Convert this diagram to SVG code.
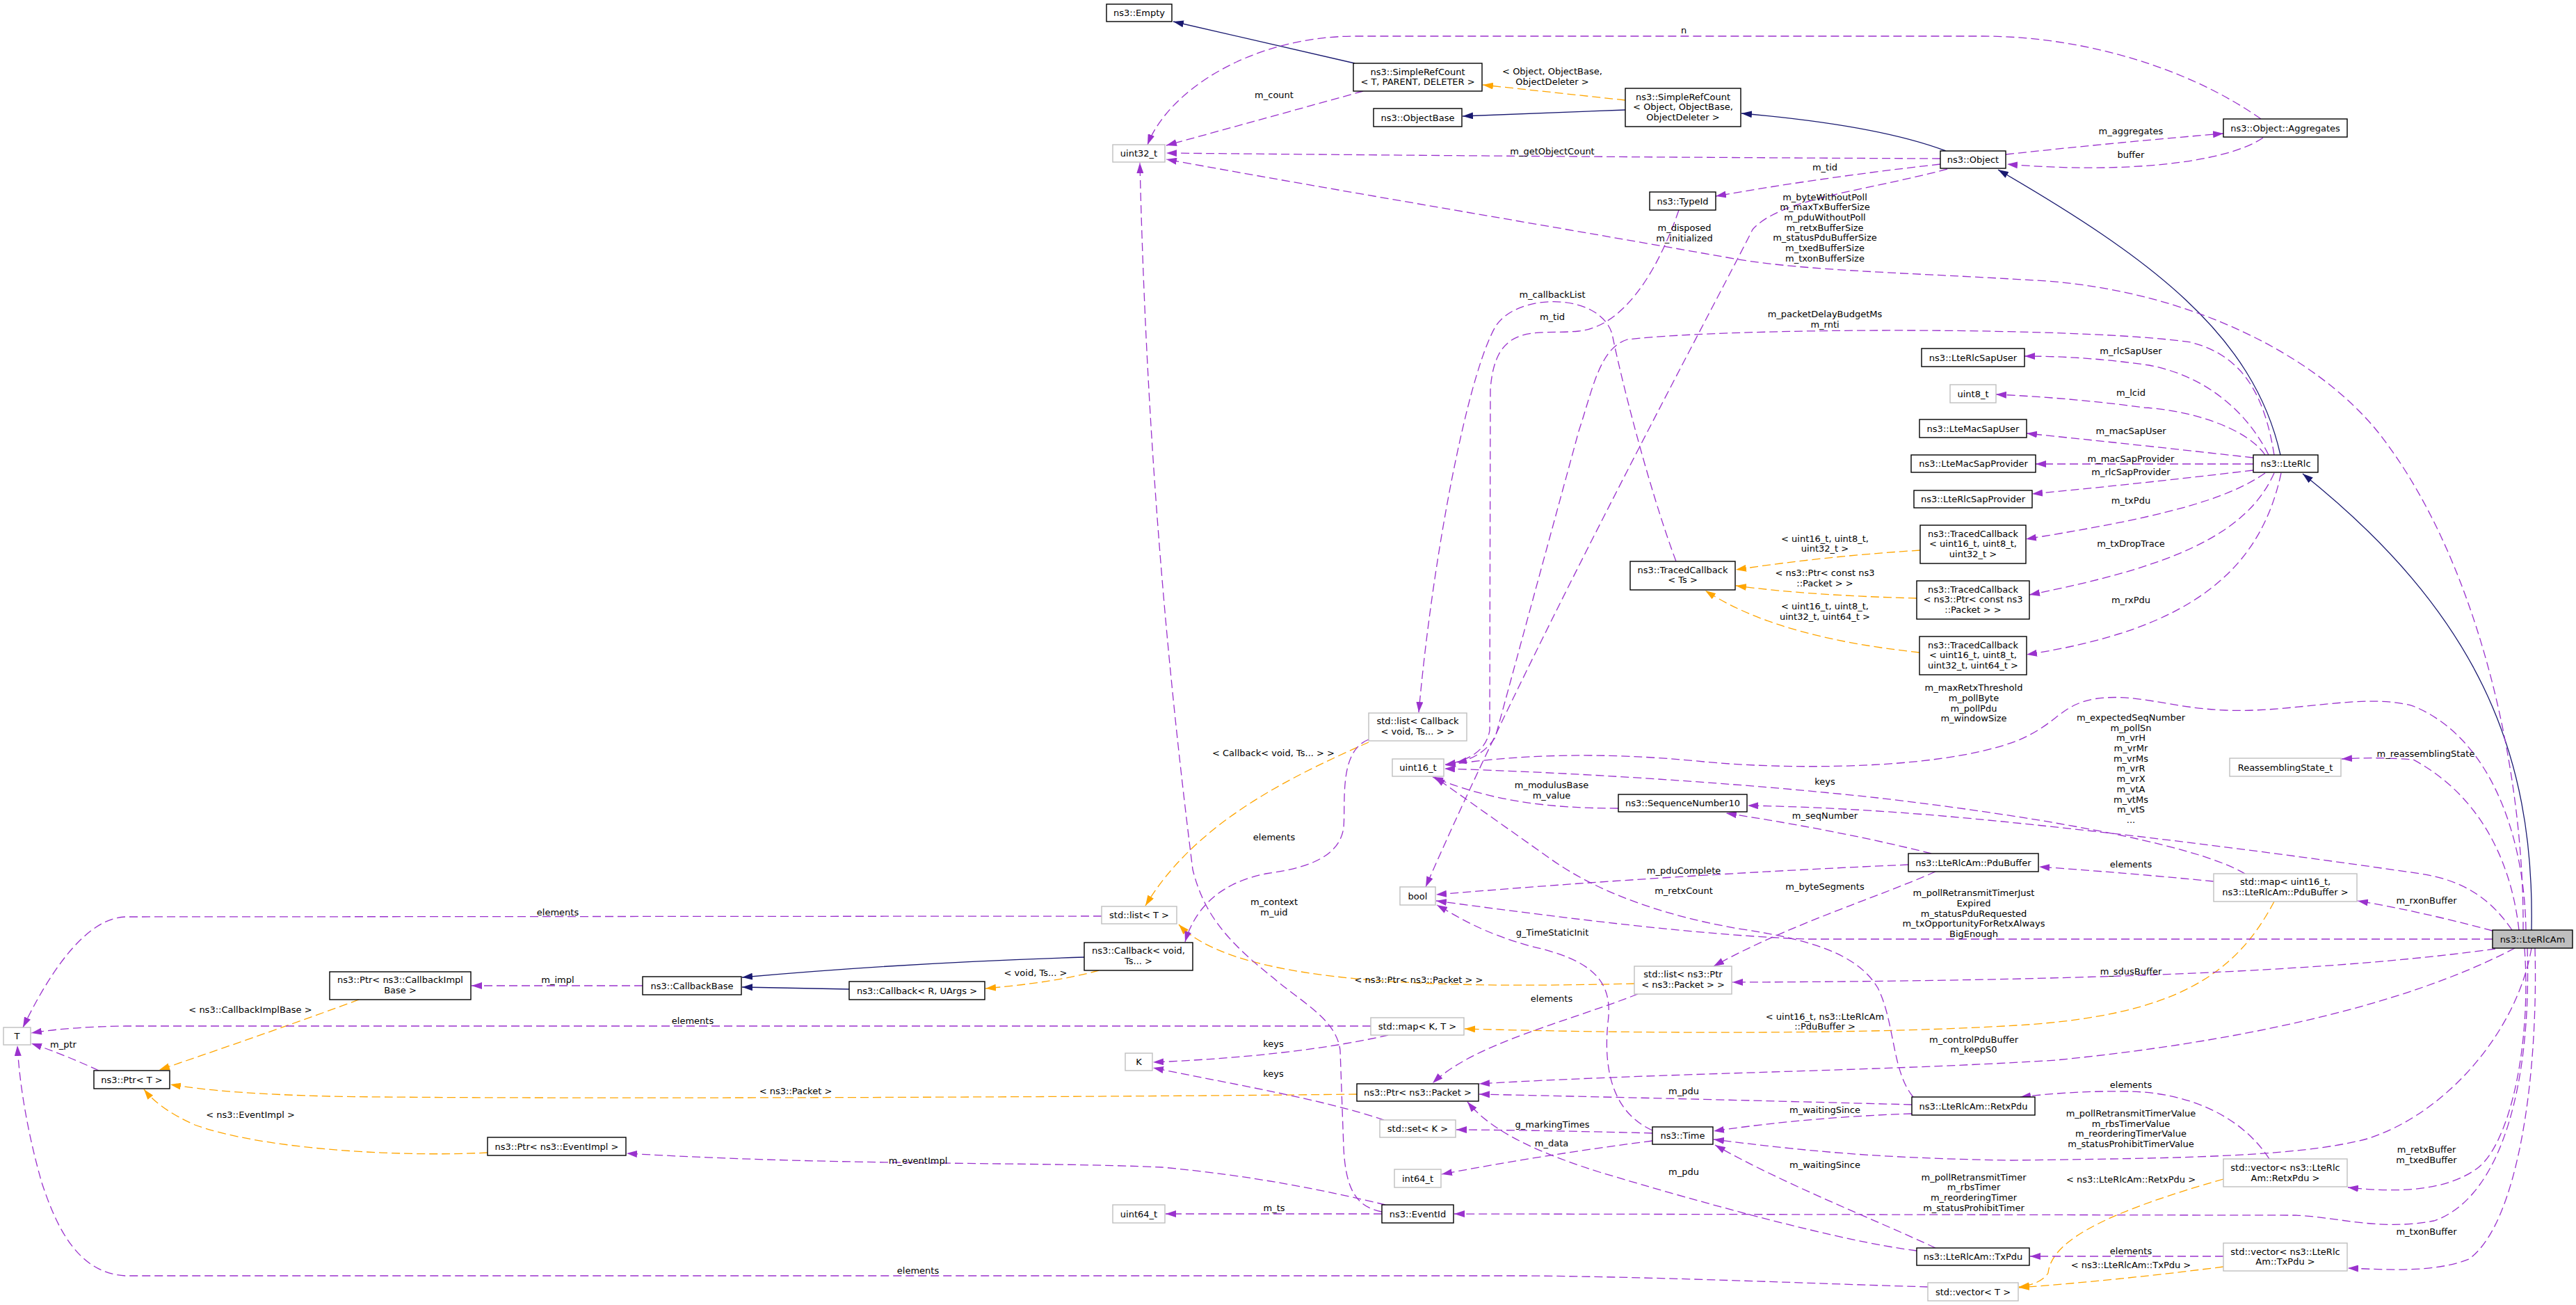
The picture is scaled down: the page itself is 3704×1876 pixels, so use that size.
<svg xmlns="http://www.w3.org/2000/svg" width="3704" height="1876" viewBox="0 0 3704 1876">
<defs>
<style>
text{font-family:"DejaVu Sans","Liberation Sans",sans-serif;font-size:13px;fill:#000;text-anchor:middle}
.nd rect{fill:#fff;stroke:#000;stroke-width:1.4}
.nd.g rect{stroke:#bfbfbf}
.nd.m rect{fill:#bfbfbf}
.e{fill:none;stroke-width:1.3}
.i{stroke:#191970;marker-end:url(#ai)}
.u{stroke:#9a32cd;stroke-dasharray:12,6;marker-end:url(#au)}
.t{stroke:#ffa500;stroke-dasharray:12,6;marker-end:url(#at)}
</style>
<marker id="ai" markerUnits="userSpaceOnUse" viewBox="0 0 15 10" refX="15" refY="5" markerWidth="15" markerHeight="10" orient="auto"><path d="M0,0L15,5L0,10z" fill="#191970"/></marker>
<marker id="au" markerUnits="userSpaceOnUse" viewBox="0 0 15 10" refX="15" refY="5" markerWidth="15" markerHeight="10" orient="auto"><path d="M0,0L15,5L0,10z" fill="#9a32cd"/></marker>
<marker id="at" markerUnits="userSpaceOnUse" viewBox="0 0 15 10" refX="15" refY="5" markerWidth="15" markerHeight="10" orient="auto"><path d="M0,0L15,5L0,10z" fill="#ffa500"/></marker>
</defs>
<rect width="3704" height="1876" fill="#fff"/>
<g id="connectors">
<path class="e i" d="M1948,91 L1687,31"/>
<path class="e i" d="M2337,158 L2103,167"/>
<path class="e i" d="M2798,217 Q2700,180 2504,163"/>
<path class="e i" d="M3279,654 C3240,480 3090,370 2873,244"/>
<path class="e i" d="M3640,1337 C3645,1080 3560,880 3311,681"/>
<path class="e i" d="M1559,1376 Q1300,1384 1067,1405"/>
<path class="e i" d="M1221,1422 L1067,1419"/>
<path class="e t" d="M2337,144 L2132,122"/>
<path class="e t" d="M2761,791 Q2620,800 2496,819"/>
<path class="e t" d="M2756,860 Q2600,856 2496,842"/>
<path class="e t" d="M2760,938 C2640,925 2530,900 2452,849"/>
<path class="e t" d="M1968,1067 C1860,1115 1720,1180 1647,1302"/>
<path class="e t" d="M1580,1395 Q1520,1412 1417,1421"/>
<path class="e t" d="M2350,1414 C2100,1420 1780,1420 1695,1329"/>
<path class="e t" d="M3270,1296 C3215,1400 3130,1460 2900,1474 C2700,1486 2400,1487 2106,1479"/>
<path class="e t" d="M1951,1573 C1500,1578 700,1580 474,1576 Q320,1572 245,1559"/>
<path class="e t" d="M516,1437 Q400,1480 229,1538"/>
<path class="e t" d="M701,1657 C560,1664 370,1650 280,1617 Q230,1595 207,1566"/>
<path class="e t" d="M3197,1695 C3040,1740 2950,1780 2945,1830 Q2935,1846 2903,1850"/>
<path class="e t" d="M3197,1821 Q3050,1840 2903,1851"/>
<path class="e u" d="M1960,131 Q1820,170 1677,209"/>
<path class="e u" d="M3251,171 C3150,100 3000,52 2850,52 L1950,52 C1800,52 1680,130 1650,208"/>
<path class="e u" d="M2790,228 Q2300,226 1677,220"/>
<path class="e u" d="M2790,236 Q2620,255 2467,282"/>
<path class="e u" d="M2800,243 C2680,275 2560,285 2520,330 C2470,430 2200,930 2050,1275"/>
<path class="e u" d="M2884,222 Q3040,205 3197,192"/>
<path class="e u" d="M3254,198 C3200,235 3050,250 2886,236"/>
<path class="e u" d="M2414,302 C2380,400 2330,470 2270,476 C2210,482 2150,460 2143,560 L2142,1050 Q2135,1090 2078,1099"/>
<path class="e u" d="M2410,807 C2370,700 2330,540 2318,480 C2300,420 2180,420 2150,470 C2110,540 2060,800 2040,1024"/>
<path class="e u" d="M1968,1063 C1925,1080 1935,1150 1932,1190 C1925,1240 1860,1250 1820,1256 C1760,1268 1720,1300 1704,1354"/>
<path class="e u" d="M3262,654 C3230,590 3170,540 3090,525 Q3000,512 2911,512"/>
<path class="e u" d="M3257,654 C3230,615 3150,590 3084,586 Q2980,572 2870,567"/>
<path class="e u" d="M3240,658 Q3080,640 2914,623"/>
<path class="e u" d="M3240,667 L2927,667"/>
<path class="e u" d="M3240,676 Q3080,695 2922,710"/>
<path class="e u" d="M3257,680 C3200,720 3100,745 2913,775"/>
<path class="e u" d="M3270,680 C3230,770 3120,815 2918,855"/>
<path class="e u" d="M3280,680 C3250,820 3150,905 2914,941"/>
<path class="e u" d="M3270,654 C3255,560 3220,510 3150,492 C3000,470 2500,470 2340,488 C2300,500 2290,560 2270,620 L2150,1060 Q2130,1090 2094,1096"/>
<path class="e u" d="M3628,1337 C3630,1100 3560,800 3420,622 C3330,510 3150,420 2943,404 C2750,392 2600,390 2494,372 C2200,320 1900,270 1677,229"/>
<path class="e u" d="M3622,1337 C3610,1230 3560,1140 3470,1092 Q3420,1088 3367,1091"/>
<path class="e u" d="M3632,1337 C3630,1200 3580,1060 3470,1015 C3400,995 3300,1025 3200,1021 C3120,1018 3070,995 3010,1005 C2960,1015 2960,1040 2900,1065 C2780,1110 2550,1105 2450,1095 C2300,1080 2180,1085 2078,1100"/>
<path class="e u" d="M3612,1337 C3580,1290 3540,1265 3480,1256 C3200,1215 2900,1180 2730,1168 Q2620,1160 2513,1158"/>
<path class="e u" d="M3228,1256 C3150,1210 2900,1170 2700,1147 C2500,1125 2250,1110 2077,1105"/>
<path class="e u" d="M3584,1338 Q3480,1310 3390,1295"/>
<path class="e u" d="M3183,1267 Q3060,1255 2932,1246"/>
<path class="e u" d="M2777,1227 Q2650,1195 2482,1169"/>
<path class="e u" d="M2744,1243 Q2400,1258 2065,1286"/>
<path class="e u" d="M2783,1253 C2700,1290 2570,1330 2464,1389"/>
<path class="e u" d="M3584,1350 L2600,1350 C2450,1345 2250,1320 2065,1295"/>
<path class="e u" d="M3588,1364 C3400,1390 3100,1410 2491,1412"/>
<path class="e u" d="M2751,1577 C2720,1540 2725,1470 2700,1420 C2670,1370 2600,1350 2500,1335 C2400,1318 2300,1285 2230,1235 L2063,1117"/>
<path class="e u" d="M2327,1162 C2220,1162 2140,1150 2060,1117"/>
<path class="e u" d="M2355,1429 C2250,1470 2120,1500 2060,1557"/>
<path class="e u" d="M3616,1363 C3450,1450 3200,1500 2956,1524 C2700,1540 2400,1542 2127,1558"/>
<path class="e u" d="M2749,1588 Q2450,1580 2127,1573"/>
<path class="e u" d="M2749,1601 Q2600,1606 2464,1626"/>
<path class="e u" d="M3640,1363 C3620,1480 3520,1600 3404,1637 C3300,1665 3100,1665 2892,1668 C2700,1665 2600,1655 2464,1638"/>
<path class="e u" d="M3630,1363 C3640,1500 3610,1640 3564,1678 C3520,1712 3450,1715 3376,1707"/>
<path class="e u" d="M3634,1363 C3640,1550 3600,1720 3500,1755 C3420,1770 3360,1749 3300,1747 L2091,1745"/>
<path class="e u" d="M3645,1363 C3650,1550 3620,1760 3550,1810 C3500,1830 3430,1825 3376,1823"/>
<path class="e u" d="M3263,1666 C3220,1600 3140,1570 3060,1569 C3000,1568 2950,1572 2905,1577"/>
<path class="e u" d="M3197,1806 L2919,1806"/>
<path class="e u" d="M2756,1798 C2650,1785 2450,1730 2300,1685 C2190,1650 2140,1620 2110,1584"/>
<path class="e u" d="M2783,1794 C2700,1755 2560,1700 2466,1646"/>
<path class="e u" d="M2376,1625 C2320,1600 2305,1540 2312,1470 C2320,1410 2290,1380 2200,1360 C2130,1340 2100,1320 2066,1301"/>
<path class="e u" d="M2376,1629 Q2230,1625 2094,1624"/>
<path class="e u" d="M2376,1640 Q2220,1660 2073,1688"/>
<path class="e u" d="M1987,1745 L1676,1745"/>
<path class="e u" d="M1992,1732 C1900,1710 1800,1690 1671,1678 C1500,1670 1200,1676 901,1658"/>
<path class="e u" d="M1987,1742 C1950,1735 1935,1710 1932,1650 L1927,1510 C1922,1465 1870,1440 1830,1405 C1760,1350 1730,1310 1715,1250 C1690,1050 1650,700 1639,234"/>
<path class="e u" d="M1990,1610 C1900,1580 1780,1560 1658,1535"/>
<path class="e u" d="M1996,1488 C1900,1510 1780,1522 1658,1527"/>
<path class="e u" d="M1971,1475 L180,1475 Q100,1476 45,1485"/>
<path class="e u" d="M1584,1317 L180,1318 C130,1320 80,1380 33,1477"/>
<path class="e u" d="M2772,1850 C2600,1845 2400,1836 2200,1834 L180,1834 C110,1830 80,1760 60,1700 C40,1630 28,1560 25,1503"/>
<path class="e u" d="M142,1539 Q90,1515 45,1500"/>
<path class="e u" d="M924,1417 L678,1417"/>
<text x="2232" y="107"><tspan x="2232">&lt; Object, ObjectBase,</tspan><tspan x="2232" dy="14.6">ObjectDeleter &gt;</tspan></text>
<text x="1832" y="140.5">m_count</text>
<text x="2421" y="47.5">n</text>
<text x="2232" y="221.5">m_getObjectCount</text>
<text x="2624" y="244.5">m_tid</text>
<text x="3064" y="192.5">m_aggregates</text>
<text x="3064" y="226.5">buffer</text>
<text x="2422" y="332"><tspan x="2422">m_disposed</tspan><tspan x="2422" dy="14.6">m_initialized</tspan></text>
<text x="2624" y="287.5"><tspan x="2624">m_byteWithoutPoll</tspan><tspan x="2624" dy="14.67">m_maxTxBufferSize</tspan><tspan x="2624" dy="14.67">m_pduWithoutPoll</tspan><tspan x="2624" dy="14.67">m_retxBufferSize</tspan><tspan x="2624" dy="14.67">m_statusPduBufferSize</tspan><tspan x="2624" dy="14.67">m_txedBufferSize</tspan><tspan x="2624" dy="14.67">m_txonBufferSize</tspan></text>
<text x="2232" y="427.5">m_callbackList</text>
<text x="2232" y="459.5">m_tid</text>
<text x="2624" y="456"><tspan x="2624">m_packetDelayBudgetMs</tspan><tspan x="2624" dy="14.6">m_rnti</tspan></text>
<text x="3064" y="508.5">m_rlcSapUser</text>
<text x="3064" y="569">m_lcid</text>
<text x="3064" y="623.5">m_macSapUser</text>
<text x="3064" y="663.5">m_macSapProvider</text>
<text x="3064" y="682.5">m_rlcSapProvider</text>
<text x="3064" y="724">m_txPdu</text>
<text x="3064" y="785.5">m_txDropTrace</text>
<text x="3064" y="867">m_rxPdu</text>
<text x="2624" y="778.5"><tspan x="2624">&lt; uint16_t, uint8_t,</tspan><tspan x="2624" dy="14.6">uint32_t &gt;</tspan></text>
<text x="2624" y="828"><tspan x="2624">&lt; ns3::Ptr&lt; const ns3</tspan><tspan x="2624" dy="14.6">::Packet &gt; &gt;</tspan></text>
<text x="2624" y="876"><tspan x="2624">&lt; uint16_t, uint8_t,</tspan><tspan x="2624" dy="14.6">uint32_t, uint64_t &gt;</tspan></text>
<text x="2838" y="993"><tspan x="2838">m_maxRetxThreshold</tspan><tspan x="2838" dy="14.8">m_pollByte</tspan><tspan x="2838" dy="14.8">m_pollPdu</tspan><tspan x="2838" dy="14.8">m_windowSize</tspan></text>
<text x="3064" y="1036"><tspan x="3064">m_expectedSeqNumber</tspan><tspan x="3064" dy="14.69">m_pollSn</tspan><tspan x="3064" dy="14.69">m_vrH</tspan><tspan x="3064" dy="14.69">m_vrMr</tspan><tspan x="3064" dy="14.69">m_vrMs</tspan><tspan x="3064" dy="14.69">m_vrR</tspan><tspan x="3064" dy="14.69">m_vrX</tspan><tspan x="3064" dy="14.69">m_vtA</tspan><tspan x="3064" dy="14.69">m_vtMs</tspan><tspan x="3064" dy="14.69">m_vtS</tspan><tspan x="3064" dy="14.69">...</tspan></text>
<text x="3488" y="1087.5">m_reassemblingState</text>
<text x="1831" y="1086.5">&lt; Callback&lt; void, Ts... &gt; &gt;</text>
<text x="2624" y="1128">keys</text>
<text x="2231" y="1133"><tspan x="2231">m_modulusBase</tspan><tspan x="2231" dy="15">m_value</tspan></text>
<text x="2624" y="1177">m_seqNumber</text>
<text x="1832" y="1207.5">elements</text>
<text x="3064" y="1247">elements</text>
<text x="2421" y="1256">m_pduComplete</text>
<text x="2624" y="1279">m_byteSegments</text>
<text x="2421" y="1285">m_retxCount</text>
<text x="2838" y="1288"><tspan x="2838">m_pollRetransmitTimerJust</tspan><tspan x="2838" dy="14.8">Expired</tspan><tspan x="2838" dy="14.8">m_statusPduRequested</tspan><tspan x="2838" dy="14.8">m_txOpportunityForRetxAlways</tspan><tspan x="2838" dy="14.8">BigEnough</tspan></text>
<text x="3489" y="1298.5">m_rxonBuffer</text>
<text x="1832" y="1301.3"><tspan x="1832">m_context</tspan><tspan x="1832" dy="14.6">m_uid</tspan></text>
<text x="802" y="1315.5">elements</text>
<text x="2232" y="1345">g_TimeStaticInit</text>
<text x="3064" y="1400.5">m_sdusBuffer</text>
<text x="1489" y="1402.5">&lt; void, Ts... &gt;</text>
<text x="802" y="1412.5">m_impl</text>
<text x="2040" y="1412.5">&lt; ns3::Ptr&lt; ns3::Packet &gt; &gt;</text>
<text x="2231" y="1440">elements</text>
<text x="360" y="1455.5">&lt; ns3::CallbackImplBase &gt;</text>
<text x="2624" y="1465.5"><tspan x="2624">&lt; uint16_t, ns3::LteRlcAm</tspan><tspan x="2624" dy="14.6">::PduBuffer &gt;</tspan></text>
<text x="996" y="1472">elements</text>
<text x="2838" y="1499"><tspan x="2838">m_controlPduBuffer</tspan><tspan x="2838" dy="14">m_keepS0</tspan></text>
<text x="1831" y="1505">keys</text>
<text x="91" y="1505.5">m_ptr</text>
<text x="1831" y="1548">keys</text>
<text x="3064" y="1564">elements</text>
<text x="2421" y="1573">m_pdu</text>
<text x="1144" y="1573">&lt; ns3::Packet &gt;</text>
<text x="2624" y="1600">m_waitingSince</text>
<text x="3064" y="1605"><tspan x="3064">m_pollRetransmitTimerValue</tspan><tspan x="3064" dy="14.7">m_rbsTimerValue</tspan><tspan x="3064" dy="14.7">m_reorderingTimerValue</tspan><tspan x="3064" dy="14.7">m_statusProhibitTimerValue</tspan></text>
<text x="360" y="1606.5">&lt; ns3::EventImpl &gt;</text>
<text x="2232" y="1621">g_markingTimes</text>
<text x="2231" y="1648">m_data</text>
<text x="3489" y="1657"><tspan x="3489">m_retxBuffer</tspan><tspan x="3489" dy="15">m_txedBuffer</tspan></text>
<text x="1320" y="1673">m_eventImpl</text>
<text x="2624" y="1679">m_waitingSince</text>
<text x="2421" y="1689">m_pdu</text>
<text x="2838" y="1696.5"><tspan x="2838">m_pollRetransmitTimer</tspan><tspan x="2838" dy="14.9">m_rbsTimer</tspan><tspan x="2838" dy="14.9">m_reorderingTimer</tspan><tspan x="2838" dy="14.9">m_statusProhibitTimer</tspan></text>
<text x="3064" y="1700">&lt; ns3::LteRlcAm::RetxPdu &gt;</text>
<text x="1832" y="1741">m_ts</text>
<text x="3489" y="1774.5">m_txonBuffer</text>
<text x="3064" y="1803">elements</text>
<text x="3064" y="1822.5">&lt; ns3::LteRlcAm::TxPdu &gt;</text>
<text x="1320" y="1831">elements</text>
</g>
<g id="n_empty" class="nd"><rect x="1591" y="6" width="94" height="25"/><text x="1638" y="23">ns3::Empty</text></g>
<g id="n_uint32" class="nd g"><rect x="1600" y="208" width="75" height="25"/><text x="1637.5" y="225">uint32_t</text></g>
<g id="n_srcT" class="nd"><rect x="1946" y="91" width="185" height="40"/><text x="2038.5" y="107.5"><tspan x="2038.5">ns3::SimpleRefCount</tspan><tspan x="2038.5" dy="14.6">&lt; T, PARENT, DELETER &gt;</tspan></text></g>
<g id="n_objectbase" class="nd"><rect x="1975" y="156" width="127" height="26"/><text x="2038.5" y="173.5">ns3::ObjectBase</text></g>
<g id="n_srcObj" class="nd"><rect x="2337" y="127" width="166" height="55"/><text x="2420" y="143.5"><tspan x="2420">ns3::SimpleRefCount</tspan><tspan x="2420" dy="14.6">&lt; Object, ObjectBase,</tspan><tspan x="2420" dy="14.6">ObjectDeleter &gt;</tspan></text></g>
<g id="n_typeid" class="nd"><rect x="2372" y="276" width="95" height="26"/><text x="2419.5" y="293.5">ns3::TypeId</text></g>
<g id="n_object" class="nd"><rect x="2790" y="217" width="94" height="25"/><text x="2837" y="234">ns3::Object</text></g>
<g id="n_aggregates" class="nd"><rect x="3197" y="171" width="178" height="26"/><text x="3286" y="188.5">ns3::Object::Aggregates</text></g>
<g id="n_rlcsapuser" class="nd"><rect x="2763" y="501" width="148" height="26"/><text x="2837" y="518.5">ns3::LteRlcSapUser</text></g>
<g id="n_uint8" class="nd g"><rect x="2804" y="553" width="66" height="26"/><text x="2837" y="570.5">uint8_t</text></g>
<g id="n_macsapuser" class="nd"><rect x="2760" y="603" width="154" height="26"/><text x="2837" y="620.5">ns3::LteMacSapUser</text></g>
<g id="n_macsapprovider" class="nd"><rect x="2748" y="654" width="179" height="25"/><text x="2837.5" y="671">ns3::LteMacSapProvider</text></g>
<g id="n_rlcsapprovider" class="nd"><rect x="2752" y="705" width="170" height="25"/><text x="2837" y="722">ns3::LteRlcSapProvider</text></g>
<g id="n_lterlc" class="nd"><rect x="3240" y="654" width="93" height="25"/><text x="3286.5" y="671">ns3::LteRlc</text></g>
<g id="n_tc1" class="nd"><rect x="2761" y="755" width="152" height="55"/><text x="2837" y="771.5"><tspan x="2837">ns3::TracedCallback</tspan><tspan x="2837" dy="14.6">&lt; uint16_t, uint8_t,</tspan><tspan x="2837" dy="14.6">uint32_t &gt;</tspan></text></g>
<g id="n_tc2" class="nd"><rect x="2756" y="835" width="162" height="55"/><text x="2837" y="851.5"><tspan x="2837">ns3::TracedCallback</tspan><tspan x="2837" dy="14.6">&lt; ns3::Ptr&lt; const ns3</tspan><tspan x="2837" dy="14.6">::Packet &gt; &gt;</tspan></text></g>
<g id="n_tc3" class="nd"><rect x="2760" y="915" width="154" height="55"/><text x="2837" y="931.5"><tspan x="2837">ns3::TracedCallback</tspan><tspan x="2837" dy="14.6">&lt; uint16_t, uint8_t,</tspan><tspan x="2837" dy="14.6">uint32_t, uint64_t &gt;</tspan></text></g>
<g id="n_tcts" class="nd"><rect x="2344" y="807" width="151" height="41"/><text x="2419.5" y="823.5"><tspan x="2419.5">ns3::TracedCallback</tspan><tspan x="2419.5" dy="14.6">&lt; Ts &gt;</tspan></text></g>
<g id="n_listcallback" class="nd g"><rect x="1968" y="1025" width="141" height="40"/><text x="2038.5" y="1041"><tspan x="2038.5">std::list&lt; Callback</tspan><tspan x="2038.5" dy="14.6">&lt; void, Ts... &gt; &gt;</tspan></text></g>
<g id="n_uint16" class="nd g"><rect x="2002" y="1091" width="74" height="25"/><text x="2039" y="1108">uint16_t</text></g>
<g id="n_seqnum10" class="nd"><rect x="2327" y="1142" width="185" height="25"/><text x="2419.5" y="1159">ns3::SequenceNumber10</text></g>
<g id="n_reassembling" class="nd g"><rect x="3206" y="1090" width="160" height="26"/><text x="3286" y="1107.5">ReassemblingState_t</text></g>
<g id="n_pdubuffer" class="nd"><rect x="2744" y="1227" width="187" height="26"/><text x="2837.5" y="1244.5">ns3::LteRlcAm::PduBuffer</text></g>
<g id="n_mappdu" class="nd g"><rect x="3183" y="1256" width="206" height="40"/><text x="3286" y="1272"><tspan x="3286">std::map&lt; uint16_t,</tspan><tspan x="3286" dy="14.6">ns3::LteRlcAm::PduBuffer &gt;</tspan></text></g>
<g id="n_lterlcam" class="nd m"><rect x="3584" y="1337" width="115" height="26"/><text x="3641.5" y="1354.5">ns3::LteRlcAm</text></g>
<g id="n_bool" class="nd g"><rect x="2013" y="1275" width="51" height="26"/><text x="2038.5" y="1292.5">bool</text></g>
<g id="n_listptrpacket" class="nd g"><rect x="2350" y="1389" width="140" height="40"/><text x="2420" y="1405"><tspan x="2420">std::list&lt; ns3::Ptr</tspan><tspan x="2420" dy="14.6">&lt; ns3::Packet &gt; &gt;</tspan></text></g>
<g id="n_mapkt" class="nd g"><rect x="1971" y="1463" width="134" height="25"/><text x="2038" y="1480">std::map&lt; K, T &gt;</text></g>
<g id="n_ptrpacket" class="nd"><rect x="1951" y="1558" width="175" height="25"/><text x="2038.5" y="1575">ns3::Ptr&lt; ns3::Packet &gt;</text></g>
<g id="n_setk" class="nd g"><rect x="1984" y="1610" width="109" height="25"/><text x="2038.5" y="1627">std::set&lt; K &gt;</text></g>
<g id="n_time" class="nd"><rect x="2376" y="1620" width="87" height="25"/><text x="2419.5" y="1637">ns3::Time</text></g>
<g id="n_int64" class="nd g"><rect x="2005" y="1681" width="67" height="26"/><text x="2038.5" y="1698.5">int64_t</text></g>
<g id="n_eventid" class="nd"><rect x="1987" y="1732" width="103" height="26"/><text x="2038.5" y="1749.5">ns3::EventId</text></g>
<g id="n_retxpdu" class="nd"><rect x="2749" y="1577" width="177" height="26"/><text x="2837.5" y="1594.5">ns3::LteRlcAm::RetxPdu</text></g>
<g id="n_vecretx" class="nd g"><rect x="3197" y="1666" width="178" height="40"/><text x="3286" y="1683"><tspan x="3286">std::vector&lt; ns3::LteRlc</tspan><tspan x="3286" dy="14.6">Am::RetxPdu &gt;</tspan></text></g>
<g id="n_txpdu" class="nd"><rect x="2756" y="1794" width="162" height="25"/><text x="2837" y="1811">ns3::LteRlcAm::TxPdu</text></g>
<g id="n_vectx" class="nd g"><rect x="3197" y="1787" width="178" height="40"/><text x="3286" y="1803.5"><tspan x="3286">std::vector&lt; ns3::LteRlc</tspan><tspan x="3286" dy="14.6">Am::TxPdu &gt;</tspan></text></g>
<g id="n_vect" class="nd g"><rect x="2772" y="1844" width="130" height="26"/><text x="2837" y="1861.5">std::vector&lt; T &gt;</text></g>
<g id="n_listt" class="nd g"><rect x="1584" y="1303" width="108" height="25"/><text x="1638" y="1320">std::list&lt; T &gt;</text></g>
<g id="n_callbackvoid" class="nd"><rect x="1559" y="1355" width="156" height="40"/><text x="1637" y="1371"><tspan x="1637">ns3::Callback&lt; void,</tspan><tspan x="1637" dy="14.6">Ts... &gt;</tspan></text></g>
<g id="n_callbackbase" class="nd"><rect x="924" y="1404" width="142" height="26"/><text x="995" y="1421.5">ns3::CallbackBase</text></g>
<g id="n_callbackru" class="nd"><rect x="1221" y="1411" width="195" height="26"/><text x="1318.5" y="1428.5">ns3::Callback&lt; R, UArgs &gt;</text></g>
<g id="n_k" class="nd g"><rect x="1618" y="1514" width="39" height="25"/><text x="1637.5" y="1531">K</text></g>
<g id="n_uint64" class="nd g"><rect x="1600" y="1732" width="75" height="26"/><text x="1637.5" y="1749.5">uint64_t</text></g>
<g id="n_ptrcib" class="nd"><rect x="474" y="1397" width="203" height="40"/><text x="575.5" y="1413"><tspan x="575.5">ns3::Ptr&lt; ns3::CallbackImpl</tspan><tspan x="575.5" dy="14.6">Base &gt;</tspan></text></g>
<g id="n_t" class="nd g"><rect x="5" y="1477" width="39" height="25"/><text x="24.5" y="1494">T</text></g>
<g id="n_ptrt" class="nd"><rect x="135" y="1539" width="109" height="26"/><text x="189.5" y="1556.5">ns3::Ptr&lt; T &gt;</text></g>
<g id="n_ptrei" class="nd"><rect x="701" y="1635" width="199" height="26"/><text x="800.5" y="1652.5">ns3::Ptr&lt; ns3::EventImpl &gt;</text></g>
</svg>
